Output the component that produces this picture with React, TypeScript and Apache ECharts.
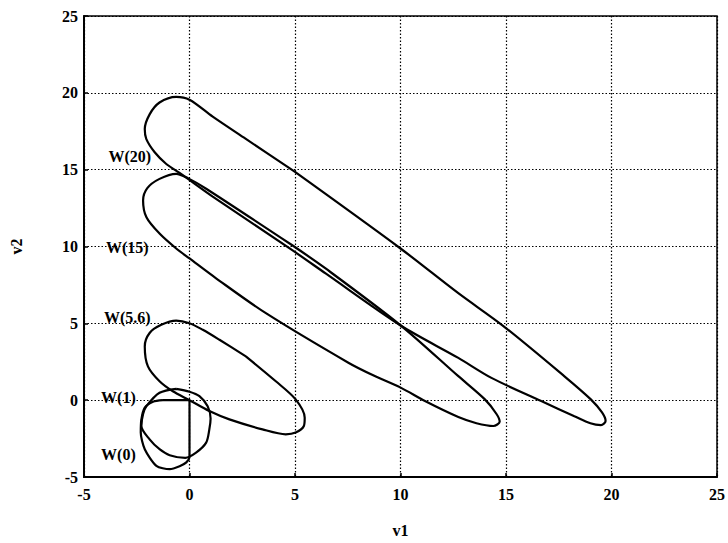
import React, { useEffect, useRef } from "react";
import * as echarts from "echarts";

// Closed trajectories in the (v1, v2) plane, one per W value.
const w20: number[][] = [
  [4.95, 14.9], [10.0, 9.87], [12.74, 6.96], [14.86, 4.84], [17.77, 1.55], [19.02, 0.05],
  [19.55, -0.8], [19.72, -1.35], [19.5, -1.62], [19.0, -1.5], [18.24, -1.04], [16.67, -0.06],
  [14.31, 1.45], [12.74, 2.75], [10.03, 4.84], [6.45, 8.25], [4.87, 9.76], [1.1, 13.25],
  [-0.47, 14.79], [-1.1, 15.37], [-1.65, 16.13], [-2.05, 17.0], [-2.12, 17.64], [-1.89, 18.6],
  [-1.42, 19.37], [-0.63, 19.74], [0, 19.55], [1.1, 18.45], [2.67, 17.0], [4.95, 14.9],
];

const w15: number[][] = [
  [4.87, 10.08], [6.45, 8.57], [10.03, 4.84], [12.74, 1.56], [14.0, 0.05], [14.55, -0.9],
  [14.7, -1.4], [14.4, -1.68], [13.6, -1.5], [12.74, -1.1], [11.16, -0.06], [10.03, 0.8],
  [8.73, 1.6], [7.55, 2.42], [3.62, 5.66], [1.26, 7.93], [0, 9.22], [-0.63, 9.87],
  [-1.42, 10.84], [-2.04, 11.9], [-2.2, 13.0], [-2.0, 13.8], [-1.42, 14.4], [-0.63, 14.73],
  [-0.08, 14.45], [0.79, 13.76], [4.87, 10.08],
];

const w56: number[][] = [
  [2.67, 2.85], [4.09, 1.23], [5.03, 0.05], [5.46, -1.14], [5.42, -1.68], [5.03, -2.11],
  [4.56, -2.22], [3.46, -1.9], [1.89, -1.25], [0.94, -0.71], [0, 0], [-0.79, 0.58],
  [-1.42, 1.23], [-1.97, 2.2], [-2.12, 3.5], [-1.89, 4.37], [-1.34, 4.9], [-0.63, 5.18],
  [0, 5.01], [0.63, 4.58], [1.42, 3.93], [2.67, 2.85],
];

const w1: number[][] = [
  [-0.63, 0.74], [0, 0.55], [0.47, 0.26], [0.86, -0.39], [1.0, -1.2], [0.94, -1.9],
  [0.79, -2.76], [0.31, -3.41], [-0.2, -3.75], [-0.94, -3.58], [-1.42, -3.19], [-1.89, -2.55],
  [-2.28, -1.68], [-2.2, -0.9], [-2.04, -0.39], [-1.42, 0.48], [-0.63, 0.74],
];

const w0: number[][] = [
  [-1.26, 0], [0, 0], [0, -1.9], [0, -3.7], [-0.15, -4.05], [-0.47, -4.3], [-0.94, -4.49],
  [-1.57, -4.27], [-2.12, -3.19], [-2.31, -2.11], [-2.28, -1.25], [-2.12, -0.49],
  [-1.73, -0.1], [-1.26, 0],
];

const curveNames = ["W(20)", "W(15)", "W(5.6)", "W(1)", "W(0)"];
const curves = [w20, w15, w56, w1, w0];
const curveSmooth = [0.3, 0.3, 0.3, 0.3, 0.25];

// Where each W label sits (text centre), in data units.
const labelAnchors: number[][] = [
  [-2.83, 15.85], [-2.95, 9.95], [-2.95, 5.39], [-3.37, 0.2], [-3.37, -3.52],
];

const axisTicks = [-5, 0, 5, 10, 15, 20, 25];

const FONT = "'Liberation Serif', 'Times New Roman', serif";

export default function App() {
  const ref = useRef<HTMLDivElement>(null);

  useEffect(() => {
    if (!ref.current) return;
    const chart = echarts.init(ref.current, null, { renderer: "svg" });

    const axisCommon = {
      type: "value" as const,
      min: axisTicks[0],
      max: axisTicks[axisTicks.length - 1],
      interval: 5,
      nameLocation: "middle" as const,
      nameTextStyle: { fontFamily: FONT, fontWeight: "bold" as const, fontSize: 16, color: "#000" },
      axisLine: { show: true, onZero: false, lineStyle: { color: "#000", width: 2 } },
      axisTick: { show: true, inside: true, length: 4, lineStyle: { color: "#000", width: 1.5 } },
      axisLabel: { fontFamily: FONT, fontWeight: "bold" as const, fontSize: 16, color: "#000" },
      splitLine: { show: true, lineStyle: { color: "#000", width: 1.2, type: [1.5, 2] as number[] } },
    };

    const lineSeries = curves.map((pts, i) => ({
      name: curveNames[i],
      type: "line" as const,
      data: pts,
      smooth: curveSmooth[i],
      showSymbol: false,
      symbol: "none",
      lineStyle: { color: "#000", width: 2.2 },
      z: 3,
    }));

    chart.setOption({
      animation: false,
      backgroundColor: "#fff",
      grid: {
        left: 83,
        right: 8,
        top: 16,
        bottom: 64,
        show: true,
        borderColor: "#000",
        borderWidth: 1.5,
        backgroundColor: "transparent",
      },
      xAxis: {
        ...axisCommon,
        name: "v1",
        nameGap: 45,
        axisLabel: { ...axisCommon.axisLabel, margin: 9 },
      },
      yAxis: {
        ...axisCommon,
        name: "v2",
        nameGap: 60,
        axisLabel: { ...axisCommon.axisLabel, margin: 6 },
      },
      series: lineSeries,
    });

    // Curve labels placed through the grid's own coordinate conversion.
    const labels = labelAnchors.map((p, i) => {
      const [px, py] = chart.convertToPixel({ gridIndex: 0 }, p) as number[];
      return {
        type: "text" as const,
        x: px,
        y: py,
        z: 10,
        style: {
          text: curveNames[i],
          fill: "#000",
          font: `bold 16px ${FONT}`,
          textAlign: "center" as const,
          textVerticalAlign: "middle" as const,
        },
      };
    });
    chart.setOption({ graphic: labels });

    return () => chart.dispose();
  }, []);

  return (
    <div
      ref={ref}
      style={{ position: "absolute", left: 0, top: 0, width: 728, height: 543, background: "#fff" }}
    />
  );
}
